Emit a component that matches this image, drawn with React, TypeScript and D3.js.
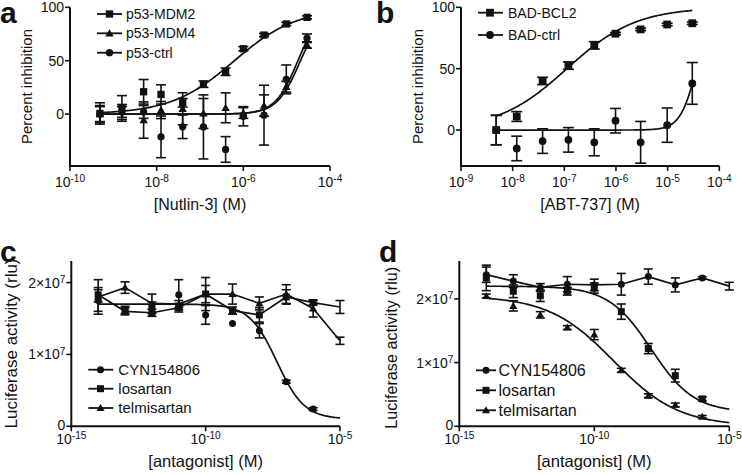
import React from 'react';
import * as d3 from 'd3';

const FONT = '"Liberation Sans", Arial, Helvetica, sans-serif';
const INK = '#111';

// ---------- Panel a ----------
const aConc = [4.9e-10, 1.58e-9, 5.0e-9, 1.26e-8, 3.98e-8, 1.2e-7, 3.9e-7, 1.0e-6, 3.0e-6, 9.8e-6, 2.95e-5];
const aMdm2 = [0.6, 5.3, 20.9, 18.4, 10.6, 28, 39.7, 61.2, 74, 84.4, 90.6];
const aMdm2Err = [10, 12, 11.5, 9, 4, 3, 3.5, 2, 1.5, 1.5, 1.5];
const aMdm4 = [0, 2, -5.6, 3.8, 5, 0.6, 5.9, 1, 8, 25.6, 64.7];
const aMdm4Err = [8, 7, 17, 8, 15, 14, 14, 5, 10, 5, 3];
const aCtrl = [0, 2, 2, -21.3, -11.9, -12, -33.1, -2, -1, 32.5, 71];
const aCtrlErr = [7, 5, 6, 19.5, 11, 30, 12, 9, 28, 13.5, 4];
// fit parameters: [bottom, top, logEC50, hill]
const aFitMdm2 = [0, 99, -6.22, 0.6];
const aFitMdm4 = [0, 100, -4.68, 1.6];
const aFitCtrl = [0, 100, -4.74, 1.65];
const aYTicks = [0, 50, 100];
const aXExp = [-10, -8, -6, -4];

// ---------- Panel b ----------
const bConc = [4.8e-9, 1.2e-8, 3.8e-8, 1.2e-7, 3.8e-7, 9.8e-7, 3.0e-6, 9.8e-6, 3.0e-5];
const bBcl2 = [0, 11, 40, 52.5, 69, 78.5, 82, 86, 87];
const bBcl2Err = [12, 4, 3, 3, 3, 1, 1, 1, 1];
const bCtrl = [0, -15, -9, -8, -10, 7.6, -10, 4, 38];
const bCtrlErr = [12, 10, 10, 10, 11, 10, 17, 14, 17];
const bFitBcl2 = [0, 100, -6.95, 0.65];
const bFitCtrl = [0, 100, -4.44, 2.7];
const bYTicks = [0, 50, 100];
const bXExp = [-9, -8, -7, -6, -5, -4];

// ---------- Panel c (values in 10^6 rlu) ----------
const cConc = [1e-14, 1e-13, 1e-12, 1e-11, 1e-10, 1e-9, 1e-8, 1e-7, 1e-6, 1e-5];
const cCyn = [17.5, 16.2, 16.5, 18.3, 15.5, 14.3, 13.3, 6.2, 2.4];
const cCynErr = [1.5, 0.5, 0.8, 2.1, 1.3, 0, 1.0, 0.2, 0.2];
const cLos = [18.3, 16.0, 15.8, 16.5, 18.4, 16.1, 15.5, 18.0, 17.2, 16.6];
const cLosErr = [1.0, 0.5, 0.5, 0.6, 1.2, 0.5, 1.0, 1.0, 0.3, 0.9];
const cTel = [18.0, 19.3, 17.1, 17.0, 18.4, 18.4, 17.1, 18.4, 16.4, 11.9];
const cTelErr = [2.4, 0.8, 1.3, 0.5, 2.3, 1.4, 0.9, 1.3, 1.2, 0.5];
const cFitCyn = [1, 17, -7.35, -0.85];
const cYTicks = [0, 10, 20];
const cYLabels = [['0', ''], ['1×10', '7'], ['2×10', '7']];
const cXExp = [-15, -10, -5];

// ---------- Panel d (values in 10^6 rlu) ----------
const dConc = [1e-14, 1e-13, 1e-12, 1e-11, 1e-10, 1e-9, 1e-8, 1e-7, 1e-6, 1e-5];
const dCyn = [23.8, 22.8, 21.8, 22.3, 22.2, 22.3, 23.5, 22.2, 23.3, 22.0];
const dCynErr = [1.2, 1.0, 0.6, 1.2, 0.9, 1.7, 1.2, 1.1, 0.2, 0.6];
const dLos = [23.3, 21.2, 20.5, 21.2, 21.7, 18.0, 12.2, 7.95, 4.3];
const dLosErr = [2.0, 1.0, 0.9, 0.6, 0.8, 1.2, 0.8, 1.0, 0.3];
const dTel = [20.45, 18.9, 17.5, 15.5, 14.4, 8.8, 4.8, 3.35, 1.5];
const dTelErr = [0.3, 0.8, 0.5, 0.3, 0.8, 0.3, 0.3, 0.3, 0.2];
const dFitLos = [2.2, 22, -7.89, -0.55];
const dFitTel = [0, 20.5, -9.28, -0.36];
const dYTicks = [0, 10, 20];
const dYLabels = [['0', ''], ['1×10', '7'], ['2×10', '7']];
const dXExp = [-15, -10, -5];

type MarkerT = 'square' | 'circle' | 'triangle';

const fourPL = (lx: number, p: number[]) => p[0] + (p[1] - p[0]) / (1 + Math.pow(10, (p[2] - lx) * p[3]));

function Marker({ type, x, y, s }: { type: MarkerT; x: number; y: number; s: number }) {
  if (type === 'square') return <rect x={x - s / 2} y={y - s / 2} width={s} height={s} fill={INK} />;
  if (type === 'circle') return <circle cx={x} cy={y} r={s / 2} fill={INK} />;
  const h = s * 0.95;
  return <path d={`M${x},${y - h * 0.6}L${x + s * 0.58},${y + h * 0.45}L${x - s * 0.58},${y + h * 0.45}Z`} fill={INK} />;
}

interface Series {
  name: string;
  marker: MarkerT;
  conc: number[];
  vals: number[];
  errs: number[];
  fit?: number[];
  fitRange?: [number, number];
  connect?: boolean;
}

interface PanelCfg {
  letter: string;
  letterX: number;
  letterY: number;
  xDomain: [number, number];
  xRange: [number, number];
  yDomain: [number, number];
  yRange: [number, number];
  yTicks: number[];
  yLabels?: string[][];
  xExp: number[];
  xTitle: string;
  yTitle: string;
  yTitleX: number;
  yTitleY: number;
  yTitleSize: number;
  xTitleY: number;
  xTitleSize: number;
  xLabelDy: number;
  tickSize: number;
  series: Series[];
  legendX: [number, number, number, number];
  legendY: number[];
  legendSize: number;
  markerSize: number;
  capW: number;
}

function Panel({ cfg }: { cfg: PanelCfg }) {
  const x = d3.scaleLog().domain(cfg.xDomain).range(cfg.xRange);
  const y = d3.scaleLinear().domain(cfg.yDomain).range(cfg.yRange);
  const [x0, x1] = cfg.xRange;
  const yb = cfg.yRange[0];
  const yt = cfg.yRange[1];
  const xMaxLog = Math.log10(cfg.xDomain[1]);
  const line = d3
    .line<[number, number]>()
    .x((d) => d[0])
    .y((d) => d[1]);
  return (
    <g fontFamily={FONT} fill={INK}>
      <text x={cfg.letterX} y={cfg.letterY} fontSize={30} fontWeight="bold">
        {cfg.letter}
      </text>
      {/* axes */}
      <line x1={x0} x2={x0} y1={yb + 1} y2={yt} stroke={INK} strokeWidth={2} />
      <line x1={x0 - 1} x2={x1} y1={yb} y2={yb} stroke={INK} strokeWidth={2} />
      {cfg.yTicks.map((t, i) => (
        <g key={'yt' + i}>
          <line x1={x0 - 5} x2={x0} y1={y(t)} y2={y(t)} stroke={INK} strokeWidth={1.6} />
          <text x={x0 - 6} y={y(t) - (t === 0 && cfg.yLabels ? 1 : 0)} dy="0.36em" textAnchor="end" fontSize={cfg.tickSize}>
            {cfg.yLabels ? cfg.yLabels[i][0] : String(t)}
            {cfg.yLabels && cfg.yLabels[i][1] ? (
              <tspan dy="-0.45em" fontSize={cfg.tickSize * 0.72}>
                {cfg.yLabels[i][1]}
              </tspan>
            ) : null}
          </text>
        </g>
      ))}
      {cfg.xExp.map((e, i) => {
        const px = x(Math.pow(10, e));
        return (
          <g key={'xt' + i}>
            <line x1={px} x2={px} y1={yb} y2={yb + 5} stroke={INK} strokeWidth={1.6} />
            <text x={px} y={yb + cfg.xLabelDy} textAnchor="middle" fontSize={cfg.tickSize}>
              10
              <tspan dy="-0.45em" fontSize={cfg.tickSize * 0.72}>
                {String(e)}
              </tspan>
            </text>
          </g>
        );
      })}
      <text x={(x0 + x1) / 2} y={cfg.xTitleY} textAnchor="middle" fontSize={cfg.xTitleSize}>
        {cfg.xTitle}
      </text>
      <text
        transform={`translate(${cfg.yTitleX},${cfg.yTitleY}) rotate(-90)`}
        textAnchor="middle"
        fontSize={cfg.yTitleSize}
      >
        {cfg.yTitle}
      </text>
      {/* series */}
      {cfg.series.map((s, si) => {
        const pts = s.vals.map((v, i) => [x(s.conc[i]), y(v)] as [number, number]);
        let path = '';
        if (s.connect) path = line(pts) || '';
        if (s.fit && s.fitRange) {
          const [l0, l1] = s.fitRange;
          const samples = d3.range(0, 201).map((k) => {
            const lx = l0 + ((l1 - l0) * k) / 200;
            return [x(Math.pow(10, lx)), y(fourPL(lx, s.fit!))] as [number, number];
          });
          path = line(samples) || '';
        }
        return (
          <g key={'s' + si}>
            <path d={path} fill="none" stroke={INK} strokeWidth={1.7} />
            {s.vals.map((v, i) => {
              const e = s.errs[i] || 0;
              if (e <= 0) return null;
              const px = x(s.conc[i]);
              const ya = y(v + e);
              const yb2 = y(v - e);
              const hw = cfg.capW / 2;
              return (
                <g key={'e' + i} stroke={INK} strokeWidth={1.6}>
                  <line x1={px} x2={px} y1={ya} y2={yb2} />
                  <line x1={px - hw} x2={px + hw} y1={ya} y2={ya} />
                  <line x1={px - hw} x2={px + hw} y1={yb2} y2={yb2} />
                </g>
              );
            })}
            {s.vals.map((v, i) =>
              Math.log10(s.conc[i]) >= xMaxLog - 0.05 ? null : (
                <Marker key={'m' + i} type={s.marker} x={x(s.conc[i])} y={y(v)} s={cfg.markerSize} />
              )
            )}
          </g>
        );
      })}
      {/* legend */}
      {cfg.series.map((s, si) => {
        const [lx0, lx1, mx, tx] = cfg.legendX;
        const ly = cfg.legendY[si];
        return (
          <g key={'l' + si}>
            <line x1={lx0} x2={lx1} y1={ly} y2={ly} stroke={INK} strokeWidth={1.8} />
            <Marker type={s.marker} x={mx} y={ly} s={cfg.markerSize} />
            <text x={tx} y={ly} dy="0.36em" fontSize={cfg.legendSize}>
              {s.name}
            </text>
          </g>
        );
      })}
    </g>
  );
}

const lg = (a: number[]) => [Math.log10(a[0]), Math.log10(a[a.length - 1])] as [number, number];

const panelA: PanelCfg = {
  letter: 'a', letterX: 0, letterY: 23,
  xDomain: [1e-10, 1e-4], xRange: [70, 330],
  yDomain: [-48.6, 100], yRange: [166, 7.3],
  yTicks: aYTicks, xExp: aXExp,
  xTitle: '[Nutlin-3] (M)', yTitle: 'Percent inhibition',
  yTitleX: 32, yTitleY: 86.5, yTitleSize: 15, xTitleY: 210, xTitleSize: 16, xLabelDy: 21, tickSize: 14,
  series: [
    { name: 'p53-MDM2', marker: 'square', conc: aConc, vals: aMdm2, errs: aMdm2Err, fit: aFitMdm2, fitRange: lg(aConc) },
    { name: 'p53-MDM4', marker: 'triangle', conc: aConc, vals: aMdm4, errs: aMdm4Err, fit: aFitMdm4, fitRange: lg(aConc) },
    { name: 'p53-ctrl', marker: 'circle', conc: aConc, vals: aCtrl, errs: aCtrlErr, fit: aFitCtrl, fitRange: lg(aConc) },
  ],
  legendX: [97, 122, 109.5, 126], legendY: [14, 33.3, 52.7], legendSize: 14, markerSize: 7.3, capW: 10,
};

const panelB: PanelCfg = {
  letter: 'b', letterX: 376, letterY: 23,
  xDomain: [1e-9, 1e-4], xRange: [461, 719.3],
  yDomain: [-29.3, 100], yRange: [166, 7.3],
  yTicks: bYTicks, xExp: bXExp,
  xTitle: '[ABT-737] (M)', yTitle: 'Percent inhibition',
  yTitleX: 423, yTitleY: 86.5, yTitleSize: 15, xTitleY: 210, xTitleSize: 16, xLabelDy: 21, tickSize: 14,
  series: [
    { name: 'BAD-BCL2', marker: 'square', conc: bConc, vals: bBcl2, errs: bBcl2Err, fit: bFitBcl2, fitRange: lg(bConc) },
    { name: 'BAD-ctrl', marker: 'circle', conc: bConc, vals: bCtrl, errs: bCtrlErr, fit: bFitCtrl, fitRange: lg(bConc) },
  ],
  legendX: [478, 503, 490, 508], legendY: [12.7, 35], legendSize: 14, markerSize: 7.8, capW: 11,
};

const panelC: PanelCfg = {
  letter: 'c', letterX: 0, letterY: 262,
  xDomain: [1e-15, 1e-5], xRange: [71.3, 340],
  yDomain: [0, 23], yRange: [426.3, 261],
  yTicks: cYTicks, yLabels: cYLabels, xExp: cXExp,
  xTitle: '[antagonist] (M)', yTitle: 'Luciferase activity (rlu)',
  yTitleX: 16.5, yTitleY: 343.5, yTitleSize: 17, xTitleY: 467, xTitleSize: 16.5, xLabelDy: 17.5, tickSize: 14,
  series: [
    { name: 'CYN154806', marker: 'circle', conc: cConc.slice(0, 9), vals: cCyn, errs: cCynErr, fit: cFitCyn, fitRange: lg(cConc) },
    { name: 'losartan', marker: 'square', conc: cConc, vals: cLos, errs: cLosErr, connect: true },
    { name: 'telmisartan', marker: 'triangle', conc: cConc, vals: cTel, errs: cTelErr, connect: true },
  ],
  legendX: [88.3, 113.3, 100.5, 118.3], legendY: [369.7, 388.7, 408], legendSize: 15, markerSize: 7, capW: 9,
};

const panelD: PanelCfg = {
  letter: 'd', letterX: 379, letterY: 262,
  xDomain: [1e-15, 1e-5], xRange: [459.3, 729.3],
  yDomain: [0, 25.95], yRange: [426.3, 261],
  yTicks: dYTicks, yLabels: dYLabels, xExp: dXExp,
  xTitle: '[antagonist] (M)', yTitle: 'Luciferase activity (rlu)',
  yTitleX: 397, yTitleY: 347.8, yTitleSize: 16.2, xTitleY: 467, xTitleSize: 16.5, xLabelDy: 17.5, tickSize: 14,
  series: [
    { name: 'CYN154806', marker: 'circle', conc: dConc, vals: dCyn, errs: dCynErr, connect: true },
    { name: 'losartan', marker: 'square', conc: dConc.slice(0, 9), vals: dLos, errs: dLosErr, fit: dFitLos, fitRange: lg(dConc) },
    { name: 'telmisartan', marker: 'triangle', conc: dConc.slice(0, 9), vals: dTel, errs: dTelErr, fit: dFitTel, fitRange: lg(dConc) },
  ],
  legendX: [476, 496, 486, 498.5], legendY: [370.3, 390.3, 410.3], legendSize: 16, markerSize: 7, capW: 9,
};

export default function App() {
  return (
    <svg
      width={742}
      height={475}
      viewBox="0 0 742 475"
      style={{ position: 'absolute', left: 0, top: 0, background: '#fff' }}
    >
      <rect x={0} y={0} width={742} height={475} fill="#fff" />
      <Panel cfg={panelA} />
      <Panel cfg={panelB} />
      <Panel cfg={panelC} />
      <Panel cfg={panelD} />
    </svg>
  );
}
